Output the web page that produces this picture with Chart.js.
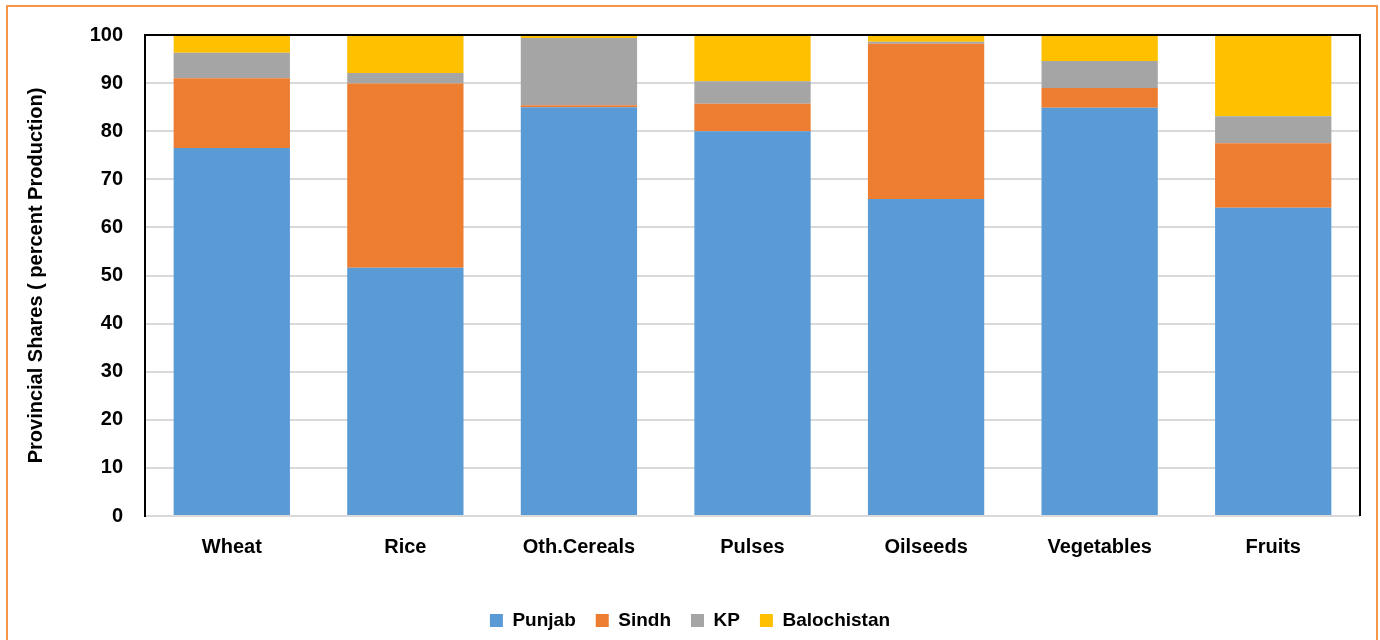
<!DOCTYPE html>
<html>
<head>
<meta charset="utf-8">
<script src="https://cdn.jsdelivr.net/npm/chart.js@4/dist/chart.umd.min.js"></script>
<style>
  html, body { margin: 0; padding: 0; background: #fff; overflow: hidden; }
  #frame {
    position: absolute; left: 6px; top: 5px; width: 1372px; height: 700px;
    border: 2px solid #F79646; box-sizing: border-box;
  }
  #wrap { position: absolute; left: 0; top: 0; width: 1380px; height: 640px; }
</style>
</head>
<body>
<div id="frame"></div>
<div id="wrap"><canvas id="chart"></canvas></div>
<script>
const categories = ["Wheat", "Rice", "Oth.Cereals", "Pulses", "Oilseeds", "Vegetables", "Fruits"];
const punjab      = [76.5, 51.6, 85.0, 80.0, 65.9, 84.9, 64.1];
const sindh       = [14.5, 38.3, 0.4, 5.7, 32.3, 4.1, 13.4];
const kp          = [5.3, 2.2, 14.0, 4.7, 0.4, 5.6, 5.6];
const balochistan = [3.7, 7.9, 0.6, 9.6, 1.4, 5.4, 16.9];
const yMin = 0, yMax = 100, yStep = 10;

const FONT = "'Liberation Sans', Arial, sans-serif";

// black frame on top and right of the plot area
const plotFrame = {
  id: "plotFrame",
  afterDraw(chart) {
    const { ctx, chartArea: a } = chart;
    ctx.save();
    ctx.strokeStyle = "#000";
    ctx.lineWidth = 2;
    ctx.beginPath();
    ctx.moveTo(a.left, a.top);
    ctx.lineTo(a.right, a.top);
    ctx.lineTo(a.right, a.bottom);
    ctx.stroke();
    ctx.restore();
  }
};

function series(label, data, color) {
  return {
    label: label,
    data: data,
    backgroundColor: color,
    borderWidth: 0,
    barPercentage: 0.67,
    categoryPercentage: 1.0
  };
}

new Chart(document.getElementById("chart").getContext("2d"), {
  type: "bar",
  data: {
    labels: categories,
    datasets: [
      series("Punjab", punjab, "#5B9BD5"),
      series("Sindh", sindh, "#ED7D31"),
      series("KP", kp, "#A5A5A5"),
      series("Balochistan", balochistan, "#FFC000")
    ]
  },
  options: {
    responsive: true,
    maintainAspectRatio: false,
    animation: false,
    layout: { padding: { left: 20, right: 20, top: 35, bottom: 0 } },
    plugins: {
      legend: {
        position: "bottom",
        labels: {
          font: { family: FONT, size: 19, weight: "bold" },
          color: "#000",
          boxWidth: 13,
          boxHeight: 13,
          padding: 20
        }
      },
      tooltip: { enabled: false }
    },
    scales: {
      x: {
        stacked: true,
        grid: { display: false, drawTicks: false },
        border: { display: false },
        ticks: {
          font: { family: FONT, size: 20, weight: "bold" },
          color: "#000",
          padding: 19
        },
        afterFit: s => { s.height = 75; }
      },
      y: {
        stacked: true,
        min: yMin,
        max: yMax,
        ticks: {
          stepSize: yStep,
          font: { family: FONT, size: 20, weight: "bold" },
          color: "#000",
          padding: 22
        },
        grid: { color: "#D9D9D9", lineWidth: 2, drawTicks: false },
        border: { display: true, color: "#000", width: 2 },
        title: {
          display: true,
          text: "Provincial Shares ( percent Production)",
          font: { family: FONT, size: 20, weight: "bold" },
          color: "#000"
        },
        afterFit: s => { s.width = 125; }
      }
    }
  },
  plugins: [plotFrame]
});
</script>
</body>
</html>
